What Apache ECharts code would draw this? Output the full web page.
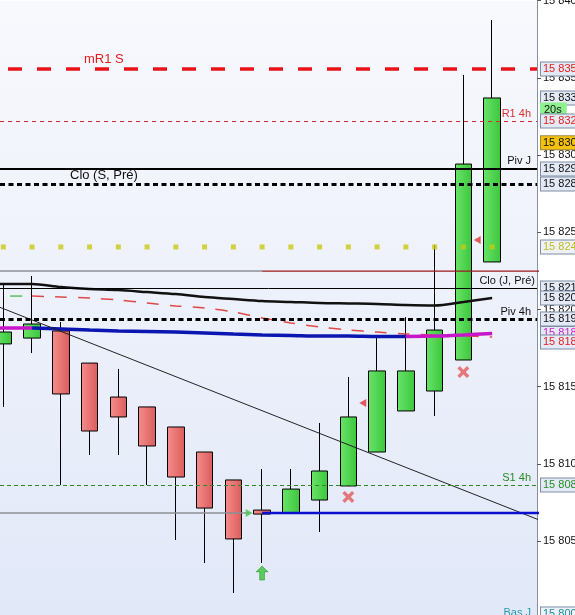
<!DOCTYPE html>
<html><head><meta charset="utf-8">
<script src="https://cdn.jsdelivr.net/npm/echarts@6/dist/echarts.min.js"></script>
<style>html,body{margin:0;padding:0;background:#fff}#c{width:575px;height:615px}</style>
</head><body><div id="c"></div>
<script>
// ---------- data ----------
const candleX = [0,1,2,3,4,5,6,7,8,9,10,11,12,13,14,15,16,17];
const opens  = [15817.77,15818.15,15818.61,15816.53,15814.33,15813.69,15812.39,15810.77,15808.96,15807.01,15806.82,15807.66,15808.57,15810.77,15813.43,15814.72,15816.73,15823.08];
const closes = [15818.54,15819.06,15814.53,15812.13,15813.04,15811.16,15809.15,15807.14,15805.14,15806.75,15808.37,15809.54,15813.04,15816.02,15816.02,15818.67,15829.42,15833.70];
const lows   = [15813.69,15817.18,15808.63,15810.58,15810.58,15808.63,15805.07,15803.58,15801.64,15803.58,15806.82,15805.59,15808.57,15810.77,15813.43,15813.10,15816.73,15823.08];
const highs  = [15821.65,15822.17,15819.19,15816.53,15816.15,15813.69,15812.39,15810.77,15808.96,15809.67,15809.67,15812.65,15815.63,15818.22,15819.51,15824.18,15835.19,15838.75];

// moving averages, from candle -1 to candle 17
const maX     = [-1,0,1,2,3,4,5,6,7,8,9,10,11,12,13,14,15,16,17];
const maBlack = [15821.65,15821.65,15821.65,15821.45,15821.33,15821.26,15821.13,15821.00,15820.81,15820.68,15820.55,15820.49,15820.42,15820.39,15820.36,15820.29,15820.26,15820.49,15820.74];
const maRed   = [15820.87,15820.87,15820.87,15820.81,15820.74,15820.62,15820.42,15820.23,15820.10,15819.84,15819.45,15819.13,15818.87,15818.67,15818.54,15818.42,15818.35,15818.29,15818.22];
const maBlue  = [15818.80,15818.80,15818.80,15818.74,15818.67,15818.61,15818.58,15818.54,15818.48,15818.41,15818.35,15818.32,15818.28,15818.28,15818.25,15818.25,15818.28,15818.35,15818.45];

const levelNames  = ['mR1 S','R1 4h','Piv J','Clo (S, Pré)','Clo (J, Pré)','Piv 4h','S1 4h','Bas J'];
const levelValues = [15835.58,15832.21,15829.10,15828.13,15821.39,15819.38,15808.63,15800.02];

const dotLevel = 15824.05;       // yellow dotted level
const quoteLevel = 15830.8;      // yellow quote box
const timerText = '20s';
const splitLevel = 15822.49;     // grey / dark red level
const supportLevel = 15806.82;   // grey / blue level
const breakCandle = 9;           // where the two split levels change
const trendX = [-1, 19];
const trendY = [15820.79, 15806.10];

const crossX = [12, 16], crossY = [15807.86, 15815.95];
const leftTriX = [12.5, 16.48], leftTriY = [15813.94, 15824.50];
const upArrowX = [9], upArrowY = [15802.93];
const rightTriX = [8.55], rightTriY = [15806.82];

const yTicks = [15800, 15805, 15810, 15815, 15820, 15825, 15830, 15835, 15840];

// ---------- helpers ----------
const FONT = 'Liberation Sans';
const yMin = yTicks[0], yMax = yTicks[yTicks.length-1];
const gridTop = 0.7, gridBottom = -3.3, H = 615;
const pxPerUnit = (H - gridTop - gridBottom) / (yMax - yMin);
function fmt(v){ const n = Math.floor(v + 1e-9); return Math.floor(n/1000) + ' ' + String(n % 1000).padStart(3,'0'); }

const lg = (c1, c2, horiz) => ({type:'linear', x:0, y:0, x2: horiz?1:0, y2: horiz?0:1, colorStops:[{offset:0,color:c1},{offset:1,color:c2}]});

const styleByName = {
  'mR1 S':        {line:{color:'#e8141a', width:3.5, type:[14,15], dashOffset:21}, color:'#e31b1b', pos:'insideStartTop', dist:[84,3], size:13},
  'R1 4h':        {line:{color:'#d42a2a', width:1, type:[4,4]}, color:'#d83030', pos:'insideEndTop', dist:[6,2], size:11},
  'Piv J':        {line:{color:'#000', width:2, type:'solid'}, color:'#111', pos:'insideEndTop', dist:[6,3], size:11},
  'Clo (S, Pré)': {line:{color:'#000', width:3, type:[5,3.5]}, color:'#111', pos:'insideStartTop', dist:[70,2], size:13},
  'Clo (J, Pré)': {line:{color:'#000', width:1, type:'solid'}, color:'#111', pos:'insideEndTop', dist:[2,2], size:11},
  'Piv 4h':       {line:{color:'#000', width:3, type:[5,3.5]}, color:'#111', pos:'insideEndTop', dist:[6,2], size:11},
  'S1 4h':        {line:{color:'#2a8a2a', width:1, type:[4,3]}, color:'#2a8a2a', pos:'insideEndTop', dist:[6,2], size:11},
  'Bas J':        {line:{color:'#2a9aaa', width:1, type:'solid'}, color:'#2a9aaa', pos:'insideEndTop', dist:[6,0], size:11}
};

const levelLines = levelNames.map((n,i)=>{
  const s = styleByName[n];
  return {
    yAxis: levelValues[i], name: n,
    lineStyle: s.line,
    label: {show:true, formatter:n, position:s.pos, distance:s.dist, color:s.color, fontSize:s.size, fontFamily:FONT}
  };
});

const boxBase = {backgroundColor:'#e3e9f5', borderColor:'#7f8da6', borderWidth:1, padding:[1,2,0,2], fontSize:11, lineHeight:12, fontFamily:FONT, opacity:1};
// value box on the price scale; shiftPx moves the box (not the value) to avoid overlaps
function box(v, color, extra, text, shiftPx){
  return {yAxis: v - (shiftPx||0)/pxPerUnit, lineStyle:{color:'rgba(0,0,0,0)', width:1, opacity:1},
    label: Object.assign({show:true, position:'end', distance:4, formatter: text || fmt(v), color: color||'#111'}, boxBase, extra||{})};
}
const lastClose = closes[closes.length-1];
const boxes = [
  box(levelValues[0], '#e02020'),
  box(lastClose, '#111'),
  box(lastClose, '#111', {backgroundColor:'#8ef08e', borderColor:'#8ef08e', padding:[1,4,0,3]}, timerText, 12),
  box(levelValues[1], '#e02020'),
  box(quoteLevel, '#111', {backgroundColor:'#f4c20d', borderColor:'#9a8a40'}),
  box(levelValues[2], '#111'),
  box(levelValues[3], '#111'),
  box(dotLevel, '#bdbd22', {backgroundColor:'#eef2f8'}),
  box(levelValues[4], '#111'),
  box(maBlack[maBlack.length-1], '#111'),
  box(levelValues[5], '#111'),
  box(maBlue[maBlue.length-1], '#cc22cc'),
  box(maRed[maRed.length-1], '#e02020', null, null, 5),
  box(levelValues[6], '#2a8a2a'),
  box(levelValues[7], '#1a8a9a', {backgroundColor:'#eef2f8'}, null, -4)
];

const pts = (xs, ys) => xs.map((x,i)=>[x, ys[i]]);
const seg = (xs, ys, a, b) => pts(xs, ys).filter(p => p[0] >= a && p[0] <= b);
const xMin = -0.115, xMax = 18.56;
const maLine = (data, color, width, extra) => ({type:'line', z:3, data, smooth:0.3, showSymbol:false, lineStyle:Object.assign({color, width}, extra||{})});

const option = {
  animation: false,
  backgroundColor: '#ffffff',
  grid: {left:0, right:38, top:gridTop, bottom:gridBottom, show:true, borderWidth:0, outerBoundsMode:'none', containLabel:false,
         backgroundColor: lg('#f8f9fd', '#e1e8f8', false)},
  xAxis: {type:'value', min:xMin, max:xMax, show:false},
  yAxis: {type:'value', position:'right', min:yMin, max:yMax, interval:5, splitLine:{show:false},
    axisLine:{show:true, onZero:false, lineStyle:{color:'#8a919c', width:1}},
    axisTick:{show:true, length:4, lineStyle:{color:'#555'}},
    axisLabel:{margin:6, color:'#111', fontSize:11, fontFamily:FONT, formatter: v => fmt(v), hideOverlap:false}},
  series: [
    {
      type:'candlestick', z:1, barWidth:17,
      data: candleX.map((x,i)=>[x, opens[i], closes[i], lows[i], highs[i]]),
      itemStyle:{color: lg('#6ae46a','#3cc63c', true), color0: lg('#f58e8c','#da5c5c', true),
                 borderColor:'#000', borderColor0:'#000', borderWidth:1}
    },
    maLine(pts(maX, maBlack), '#111', 2.5),
    maLine(seg(maX, maRed, 0, 1), '#5cbf5c', 1.5, {type:[12,11], dashOffset:16}),
    maLine(seg(maX, maRed, 1, 17), '#e04848', 1.5, {type:[12,11], dashOffset:0}),
    maLine(seg(maX, maBlue, -1, 1), '#c815c8', 3.5),
    maLine(seg(maX, maBlue, 1, 14), '#0b16b0', 3.5),
    maLine(seg(maX, maBlue, 14, 17), '#c815c8', 3.5),
    { type:'line', z:3, data: pts(trendX, trendY), showSymbol:false, lineStyle:{color:'#222', width:1} },
    { type:'line', z:3, data: [[maX[0], splitLevel],[breakCandle, splitLevel]], showSymbol:false, lineStyle:{color:'#8d8f95', width:1.5} },
    { type:'line', z:3, data: [[breakCandle, splitLevel],[trendX[1], splitLevel]], showSymbol:false, lineStyle:{color:'#9a1a1e', width:1.2} },
    { type:'line', z:3, data: [[maX[0], supportLevel],[rightTriX[0], supportLevel]], showSymbol:false, lineStyle:{color:'#8d8f95', width:1.5} },
    { type:'line', z:3, data: [[breakCandle, supportLevel],[trendX[1], supportLevel]], showSymbol:false, lineStyle:{color:'#0a10d0', width:2.5} },
    { type:'scatter', z:4, symbol:'rect', symbolSize:5, data: candleX.map(x=>[x, dotLevel]), itemStyle:{color:'#c8c810'} },
    { type:'scatter', z:5, symbolSize:12,
      symbol:'path://M2,0 L5,3 L8,0 L10,2 L7,5 L10,8 L8,10 L5,7 L2,10 L0,8 L3,5 L0,2 Z',
      data: pts(crossX, crossY), itemStyle:{color:'#e45a5a'} },
    { type:'scatter', z:5, symbol:'triangle', symbolRotate:90, symbolSize:[8,7], data: pts(leftTriX, leftTriY), itemStyle:{color:'#dd3535'} },
    { type:'scatter', z:5, symbol:'triangle', symbolRotate:-90, symbolSize:[8,7], data: pts(rightTriX, rightTriY), itemStyle:{color:'#4cc24c'} },
    { type:'scatter', z:5, symbolSize:[12,14], symbol:'path://M5,0 L10,5 L7,5 L7,12 L3,12 L3,5 L0,5 Z',
      data: pts(upArrowX, upArrowY), itemStyle:{color:'#38c038', borderColor:'#1d8a1d', borderWidth:0.6} },
    { type:'line', z:4, data:[[xMin, yMin]], showSymbol:false, lineStyle:{opacity:0}, clip:false, silent:true,
      markLine:{silent:true, symbol:['none','none'], animation:false, data: levelLines} },
    { type:'line', z:6, data:[[xMin, yMin]], showSymbol:false, lineStyle:{opacity:0}, clip:false, silent:true,
      markLine:{silent:true, symbol:['none','none'], animation:false, data: boxes} }
  ]
};
const chart = echarts.init(document.getElementById('c'), null, {renderer:'canvas'});
chart.setOption(option);
</script></body></html>
